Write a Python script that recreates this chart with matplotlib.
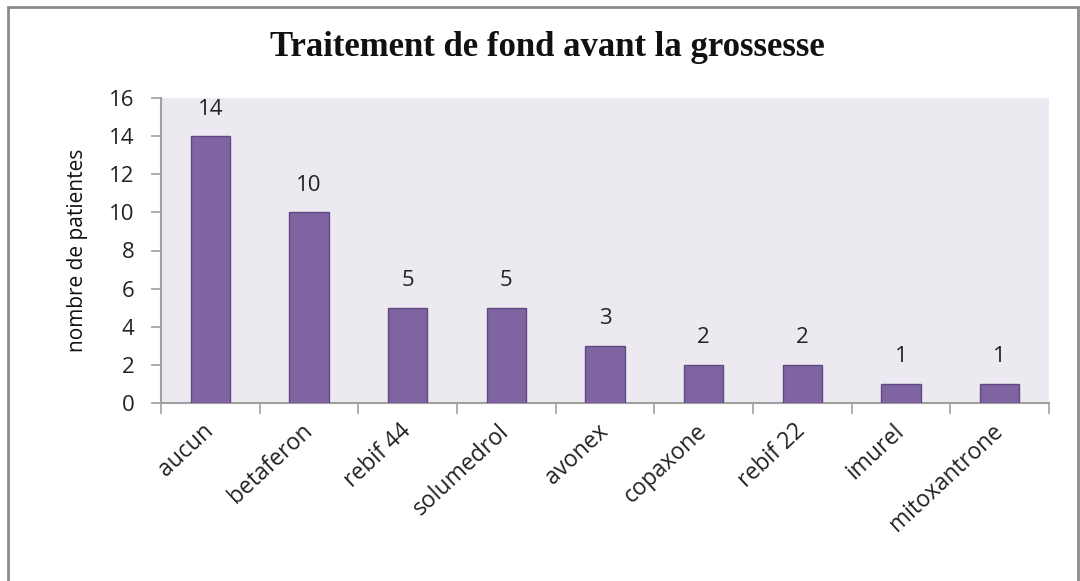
import matplotlib
matplotlib.use("Agg")
import matplotlib.pyplot as plt
from matplotlib.patches import Rectangle

categories = ["aucun", "betaferon", "rebif 44", "solumedrol", "avonex",
              "copaxone", "rebif 22", "imurel", "mitoxantrone"]
values = [14, 10, 5, 5, 3, 2, 2, 1, 1]
yticks = [0, 2, 4, 6, 8, 10, 12, 14, 16]

W, H = 1080, 581
fig = plt.figure(figsize=(W / 100, H / 100), dpi=100)
fig.patch.set_facecolor("white")

# outer chart frame
fig.add_artist(Rectangle((8 / W, -0.05), (1078 - 8) / W, 1 - 7 / H + 0.05,
                         transform=fig.transFigure, fill=False,
                         edgecolor="#8a8a8a", linewidth=2))

ax = fig.add_axes([161 / W, 1 - 403 / H, (1049 - 161) / W, (403 - 98) / H])
ax.set_facecolor("#ECEAF0")

x = list(range(len(categories)))
bars = ax.bar(x, values, width=0.4, color="#8064A2", edgecolor="#5E4A86",
              linewidth=1, zorder=3)

ax.set_xlim(-0.5, len(categories) - 0.5)
ax.set_ylim(0, 16)
ax.set_yticks(yticks)
ax.set_yticklabels([str(t) for t in yticks], fontsize=16, family="Open Sans",
                   color="#222222")

ax.set_xticks([i - 0.5 for i in range(len(categories) + 1)], minor=False)
ax.set_xticklabels([])
ax.set_xticks(x, minor=True)
ax.set_xticklabels(categories, minor=True, rotation=43, ha="right",
                   va="center", rotation_mode="anchor", fontsize=16.5,
                   family="Open Sans", color="#222222")
ax.tick_params(axis="x", which="minor", length=0, pad=18)
ax.tick_params(axis="x", which="major", length=8, color="#a0a0a0", width=1.2)
ax.tick_params(axis="y", length=7, color="#a0a0a0", width=1.2, pad=12)

for s in ["top", "right"]:
    ax.spines[s].set_visible(False)
for s in ["left", "bottom"]:
    ax.spines[s].set_color("#a0a0a0")
    ax.spines[s].set_linewidth(1.5)

for xi, v in zip(x, values):
    ax.annotate(str(v), (xi, v), xytext=(0, 15.5), textcoords="offset points",
                ha="center", va="baseline", fontsize=16, family="Open Sans",
                color="#222222")

ax.set_ylabel("nombre de patientes", fontsize=15, family="Open Sans",
              color="#111111", va="center")
ax.yaxis.set_label_coords((78 - 161) / 888, 0.5)

fig.text(547 / W, 1 - 47 / H, "Traitement de fond avant la grossesse",
         ha="center", va="center", fontsize=25, fontweight="bold",
         family="Liberation Serif", color="#111111")

fig.savefig("out.png", dpi=100)
